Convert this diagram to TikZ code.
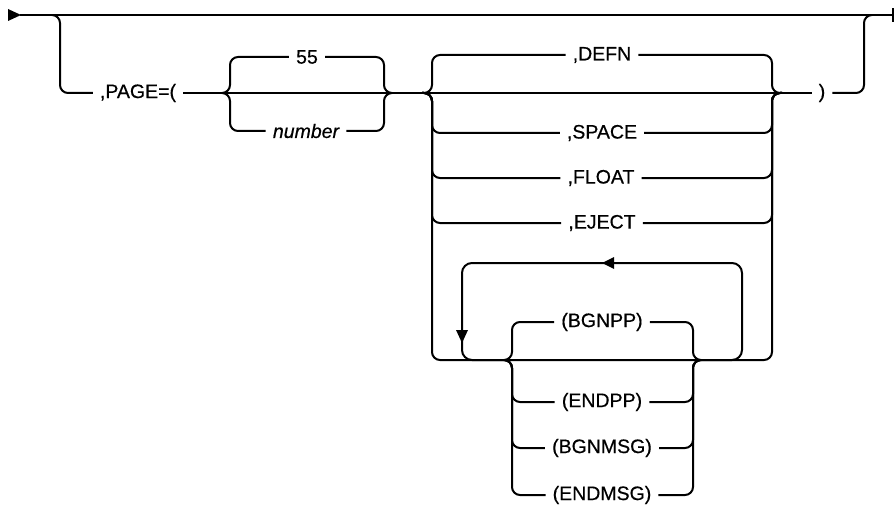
\documentclass[tikz,border=0pt]{standalone}
\usepackage{fontspec}
\setmainfont{Liberation Sans}
\newfontfamily\railfont{Liberation Sans}[FakeBold=0.5]
\begin{document}
\begin{tikzpicture}[x=1pt,y=-1pt,
  rail/.style={line width=2pt, rounded corners=8pt},
  plain/.style={line width=2pt},
  lbl/.style={inner xsep=7pt, inner ysep=2pt, font=\railfont\fontsize{19.5}{22}\selectfont}]
\useasboundingbox (0,0) rectangle (894,508);

% key points
\coordinate (start) at (20,15);
\coordinate (tail) at (8,15);
\coordinate (endp) at (893,15);
\coordinate (bL0) at (52,15);
\coordinate (bL) at (60,15);
\coordinate (bR) at (864,15);
\coordinate (bR0) at (872,15);
\coordinate (a1) at (222,93);
\coordinate (a2) at (230,93);
\coordinate (a3) at (384,93);
\coordinate (a4) at (392,93);
\coordinate (c1) at (422,93);
\coordinate (c2) at (432,93);
\coordinate (c3) at (772,93);
\coordinate (c4) at (782,93);
\coordinate (g) at (432,360);
\coordinate (i1) at (504,360);
\coordinate (i2) at (512,360);
\coordinate (i3) at (693,360);
\coordinate (i4) at (701,360);
\coordinate (lpL) at (462,263);
\coordinate (lpR) at (742,263);
\coordinate (ltip) at (602,263);
\coordinate (dtip) at (462,343);

% labels
\node[lbl] (page) at (138,93) {,PAGE=(};
\node[lbl] (n55) at (307,57) {55};
\node[lbl] (num) at (306,131) {\itshape number};
\node[lbl] (rp) at (822,93) {)};
\node[lbl] (defn) at (602,55) {,DEFN};
\node[lbl] (space) at (602,133) {,SPACE};
\node[lbl] (float) at (601,178) {,FLOAT};
\node[lbl] (eject) at (602,223) {,EJECT};
\node[lbl] (bgnpp) at (602,322) {(BGNPP)};
\node[lbl] (endpp) at (602,402) {(ENDPP)};
\node[lbl] (bgnmsg) at (602,448) {(BGNMSG)};
\node[lbl] (endmsg) at (602,495) {(ENDMSG)};

% main line with start arrow and end tick
\fill[shift={(tail)}] (0,-6) -- (13,0) -- (0,6) -- cycle;
\draw[plain] (start) -- (endp);
\draw[plain] ([yshift=-7pt]endp) -- ([yshift=7pt]endp);

% optional branch
\draw[rail] (bL0) -- (bL) -- (bL |- page) -- (page.west);
\draw[plain] (page.east) -- (c1);
\draw[plain] (c4) -- (rp.west);
\draw[rail] (rp.east) -- (bR |- rp) -- (bR) -- (bR0);

% first choice: 55 / number
\draw[rail] (a1) -- (a2) -- (a2 |- n55) -- (n55.west);
\draw[rail] (n55.east) -- (a3 |- n55) -- (a3) -- (a4);
\draw[rail] (a1) -- (a2) -- (a2 |- num) -- (num.west);
\draw[rail] (num.east) -- (a3 |- num) -- (a3) -- (a4);

% second choice
\draw[plain] (c1) -- (c4);
\draw[rail] (c1) -- (c2) -- (c2 |- defn) -- (defn.west);
\draw[rail] (defn.east) -- (c3 |- defn) -- (c3) -- (c4);
\foreach \n in {space,float,eject}{
  \draw[rail] (c1) -- (c2) -- (c2 |- \n) -- (\n.west);
  \draw[rail] (\n.east) -- (c3 |- \n) -- (c3) -- (c4);
}
\draw[rail] (c1) -- (c2) -- (g) -- (c3 |- g) -- (c3) -- (c4);

% repeat loop
\draw[rail, rounded corners=10pt] (i4) -- (lpR |- i4) -- (lpR) -- (lpL) -- (lpL |- i1) -- (i1);
\fill[shift={(ltip)}] (0,0) -- (12,-6) -- (12,6) -- cycle;
\fill[shift={(dtip)}] (0,0) -- (-6,-13) -- (6,-13) -- cycle;

% inner choice
\draw[rail] (i1) -- (i2) -- (i2 |- bgnpp) -- (bgnpp.west);
\draw[rail] (bgnpp.east) -- (i3 |- bgnpp) -- (i3) -- (i4);
\foreach \n in {endpp,bgnmsg,endmsg}{
  \draw[rail] (i1) -- (i2) -- (i2 |- \n) -- (\n.west);
  \draw[rail] (\n.east) -- (i3 |- \n) -- (i3) -- (i4);
}
\end{tikzpicture}
\end{document}
